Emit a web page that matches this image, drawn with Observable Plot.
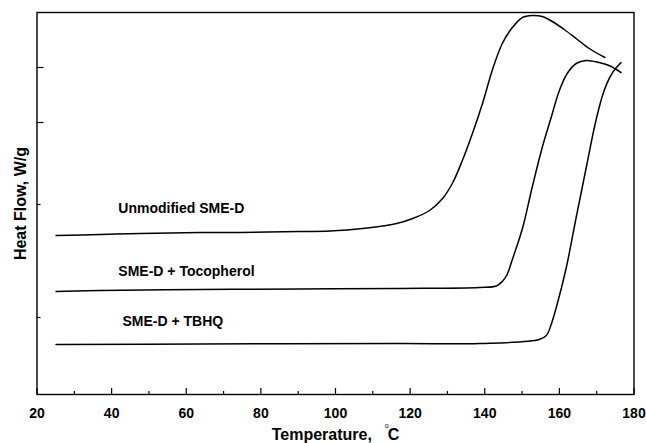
<!DOCTYPE html>
<html><head><meta charset="utf-8">
<script src="https://cdn.jsdelivr.net/npm/d3@7"></script>
<script src="https://cdn.jsdelivr.net/npm/@observablehq/plot@0.6"></script>
<style>html,body{margin:0;padding:0;background:#fff} svg{display:block}</style>
</head><body><div id="chart"></div>
<script>
// Series: temperature (°C) and heat flow (arbitrary W/g units, offset curves)
const unmodT  = [25.1, 37.0, 47.7, 63.7, 74.4, 90.4, 98.5, 107.3, 116.4, 120.7, 125.2, 128.7, 131.3, 134.0, 136.7, 139.4, 142.0, 144.7, 147.4, 150.1, 152.7, 155.4, 158.1, 161.3, 164.5, 168.0, 172.2];
const unmodHF = [15.9, 16.0, 16.1, 16.2, 16.2, 16.3, 16.35, 16.6, 17.1, 17.6, 18.4, 19.6, 21.1, 23.4, 26.1, 29.1, 32.4, 35.1, 36.7, 37.7, 37.9, 37.8, 37.3, 36.5, 35.6, 34.6, 33.7];

const tocoT  = [25.1, 37.0, 63.7, 90.4, 117.2, 138.6, 143.1, 144.7, 146.0, 147.4, 150.1, 152.7, 155.4, 157.8, 160.0, 162.1, 164.5, 167.2, 170.6, 173.3, 176.5];
const tocoHF = [10.3, 10.4, 10.5, 10.55, 10.6, 10.7, 10.85, 11.3, 12.0, 13.5, 16.6, 20.7, 24.7, 27.7, 30.4, 32.1, 33.1, 33.4, 33.2, 32.9, 32.2];

const tbhqT  = [25.1, 63.7, 117.2, 138.6, 154.6, 156.5, 157.8, 159.1, 161.8, 164.5, 167.2, 169.8, 172.0, 174.1, 176.5];
const tbhqHF = [5.0, 5.05, 5.1, 5.1, 5.5, 5.9, 7.0, 8.6, 12.6, 17.7, 22.7, 27.4, 30.4, 32.1, 33.2];

const seriesNames = ["Unmodified SME-D", "SME-D + Tocopherol", "SME-D + TBHQ"];
// label anchor points (temperature, heat flow)
const labelT  = [41.8, 41.8, 42.9];
const labelHF = [18.6, 12.3, 7.3];

const xMajorTicks = [20, 40, 60, 80, 100, 120, 140, 160, 180];
const xMinorTicks = [30, 50, 70, 90, 110, 130, 150, 170];
const yMajorTicks = [32.7, 27.2];
const yMinorTicks = [19.0, 7.7];

const series = [[unmodT, unmodHF], [tocoT, tocoHF], [tbhqT, tbhqHF]];
const data = series.flatMap(([ts, hs], i) => ts.map((t, j) => ({series: seriesNames[i], T: t, HF: hs[j]})));
const labels = seriesNames.map((name, i) => ({name, T: labelT[i], HF: labelHF[i]}));

const font = "'Liberation Sans', Arial, Helvetica, sans-serif";
const svg = Plot.plot({
  width: 646, height: 443,
  marginLeft: 36.5, marginRight: 12.5, marginTop: 12, marginBottom: 49,
  x: {domain: [20, 180]},
  y: {domain: [0, 38.2]},
  style: {fontFamily: font, fontWeight: "bold", color: "#000", background: "#fff", overflow: "visible"},
  marks: [
    Plot.axisX({ticks: xMajorTicks, tickSize: -6, tickPadding: 20, fontSize: 14, label: null, strokeWidth: 1.2}),
    Plot.axisX({ticks: xMinorTicks, tickSize: -3, tickFormat: () => "", label: null, strokeWidth: 1.2}),
    Plot.axisY({ticks: yMajorTicks, tickSize: -7, tickFormat: () => "", label: null, strokeWidth: 1.2}),
    Plot.axisY({ticks: yMinorTicks, tickSize: -4, tickFormat: () => "", label: null, strokeWidth: 1.2}),
    Plot.frame({stroke: "#000", strokeWidth: 1.4}),
    Plot.line(data, {x: "T", y: "HF", z: "series", stroke: "#000", strokeWidth: 1.5, curve: "catmull-rom"}),
    Plot.text(labels, {x: "T", y: "HF", text: "name", textAnchor: "start", fontSize: 14, fontWeight: "bold", fill: "#000"}),
    Plot.text(["Heat Flow, W/g"], {frameAnchor: "left", rotate: -90, dx: -16, textAnchor: "middle", lineAnchor: "middle", fontSize: 16, fontWeight: "bold", fill: "#000"}),
    Plot.text(["Temperature, C"], {frameAnchor: "bottom", dy: 40, textAnchor: "middle", lineAnchor: "middle", fontSize: 16, fontWeight: "bold", fill: "#000"})
  ]
});
// add the degree sign above-left of the C
const tt = [...svg.querySelectorAll("text")].find(e => e.textContent === "Temperature, C");
if (tt) {
  tt.textContent = "";
  const ns = "http://www.w3.org/2000/svg";
  const a = document.createElementNS(ns, "tspan"); a.textContent = "Temperature,"; tt.appendChild(a);
  const b = document.createElementNS(ns, "tspan"); b.textContent = "o"; b.setAttribute("font-size", "7"); b.setAttribute("dx", "13"); b.setAttribute("dy", "-12"); b.setAttribute("font-weight", "normal"); tt.appendChild(b);
  const c = document.createElementNS(ns, "tspan"); c.textContent = "C"; c.setAttribute("dx", "-1"); c.setAttribute("dy", "12"); tt.appendChild(c);
}
document.getElementById("chart").appendChild(svg);
</script>
</body></html>
